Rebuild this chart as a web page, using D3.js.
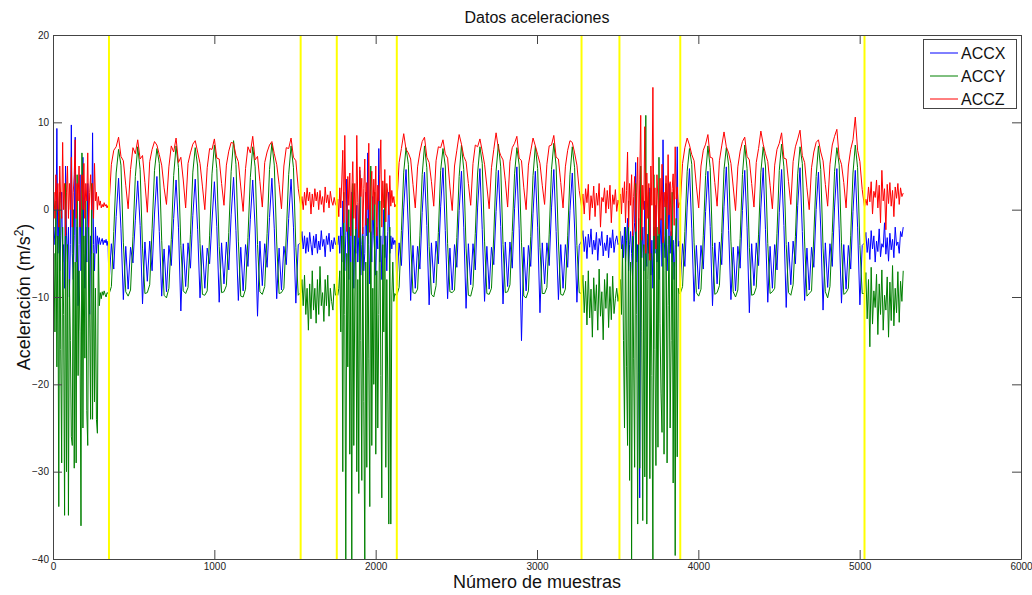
<!DOCTYPE html>
<html>
<head>
<meta charset="utf-8">
<script src="https://cdn.jsdelivr.net/npm/d3@7"></script>
<style>
  html, body { margin: 0; padding: 0; background: #fff; }
  svg { display: block; font-family: "Liberation Sans", Arial, sans-serif; }
</style>
</head>
<body>
<svg id="chart" width="1032" height="595"></svg>
<script>
// Sample index where each recorded activity segment begins; the last entry closes the record.
const segmentStarts = [0, 347, 1535, 1759, 2131, 3276, 3511, 3888, 5030];
const lastSample = 5270;
// Samples where the activity changes (drawn as yellow markers).
const markerSamples = [347, 1535, 1759, 2131, 3276, 3511, 3888, 5030];

const xTicks = [0, 1000, 2000, 3000, 4000, 5000, 6000];
const yTicks = [-40, -30, -20, -10, 0, 10, 20];
const seriesNames = ["ACCX", "ACCY", "ACCZ"];

// ACCX, one list of readings per segment
const accX = [
  [-2.5,-2,-4,-3,9.3,-5,-1,-7,-3,2,-6,-4,-9,5,-3,-6,-2,-10,-4,9.7,-5,-8,-3,8.3,-6,-2,-11,-4,4,-7,
   -3,6,-5,-9,-2,-6,3,-4,-12,-3,-5,8.8,-4,-7,-2,-5,-3,-4,-3.2,-4,-3.6,-3.3,-4,-3.5,-3.8,-3.4,-4.1,-3.6],
  [-8.6,-3.9,-6.8,-0.8,3.6,-2.2,-10.3,-4.2,
   -9.1,-4.3,-6.1,-1.2,3.3,-1.8,-10.8,-3.7,
   -8.2,-3.6,-7.0,-0.5,3.8,-2.5,-9.9,-4.5,
   -9.4,-4.1,-6.4,-1.0,3.4,-2.0,-11.6,-3.9,
   -8.8,-3.8,-6.7,-0.7,3.5,-2.3,-10.1,-4.1,
   -9.0,-4.4,-6.2,-1.3,3.2,-1.9,-10.6,-3.8,
   -8.5,-3.7,-6.9,-0.6,3.7,-2.4,-10.4,-4.3,
   -9.3,-4.0,-6.5,-1.1,3.4,-2.1,-12.2,-3.6,
   -8.7,-3.9,-6.6,-0.9,3.6,-2.2,-10.2,-4.4,
   -9.2,-4.2,-6.3,-1.0,3.5,-2.0,-10.7,-4.0],
  [-3.8,-2.5,-4.5,-3,-5,-3.2,-4.8,-2.6,-4,-5.2,-3,-4.4,-2.8,-5,-3.6,-4.6,-2.4,-4.2,-3.4,-5.4,
   -3,-4,-2.7,-4.8,-3.5,-4.5,-3.2,-4],
  [-3.5,-4,-3,-5,-2,-6,1,-4,-7,-3,3.5,-5,-8,-2,-6,2,-4,-9,-3,-5,0.5,-6,-3,4.5,-7.5,-4,-2,-7,-5,2,
   -3,6.5,-4,-8.5,-2.5,-6,1.5,-3,-5,-7.5,-2,-4.5,7,-6,-3,-8,-4,0,-5.5,-3,-7,-2.5,2,-5,-3,-4.5,-3.2,-4,-3.5,-3.8],
  [-8.7,-3.8,-6.4,0.2,4.6,-2.1,-10.4,-4.1,
   -9.0,-4.2,-6.8,-0.3,4.3,-1.8,-10.9,-3.8,
   -8.4,-3.6,-6.2,0.4,4.8,-2.4,-10.2,-4.4,
   -9.2,-4.0,-6.6,-0.1,4.4,-2.0,-11.3,-3.9,
   -8.6,-3.9,-6.9,0.3,4.7,-2.3,-10.5,-4.2,
   -9.1,-4.3,-6.3,-0.2,4.5,-1.9,-10.8,-3.7,
   -8.8,-3.7,-6.7,0.1,4.9,-2.2,-15.0,-4.3,
   -9.3,-4.1,-6.5,-0.4,4.4,-2.0,-11.8,-3.8,
   -8.5,-3.8,-6.4,0.2,4.6,-2.5,-10.3,-4.0,
   -9.0,-4.0,-6.6,-0.1,4.2,-2.1,-10.6,-4.1],
  [-3.6,-2.4,-4.8,-3.1,-5.6,-2.8,-4.3,-2.2,-5.1,-3.5,-4.6,-2.6,-5.8,-3.3,-4.1,-2.5,-5.3,-3.8,-4.7,-2.9,
   -5.5,-3.2,-4.4,-2.3,-4.9,-3.6,-3.0,-4.0],
  [-3.8,-2.5,-4.5,-3,-5.5,-2,-6,-3.5,-1,-7,-4,-2.5,-5,-8,-3,-1.5,5.4,-6,-4,-18.6,-33,-3,-5.5,-2,-7,1,
   -4.5,-6.5,-2.8,-5,2.5,-7.5,-3.5,-9,-2,-5,0.5,-6,-3,-8,-4,-1,-6.5,8,-3,-5.5,-2.2,-7,-4,3,-5,-2.5,-6,
   -3.5,-8,-4,-2,7.2,-4.2,-3.6],
  [-8.8,-3.9,-6.5,0.3,4.7,-2.2,-10.5,-4.1,
   -9.1,-4.1,-6.8,-0.2,4.4,-1.9,-11.0,-3.8,
   -8.5,-3.7,-6.3,0.4,4.9,-2.4,-10.3,-4.3,
   -9.3,-4.2,-6.7,-0.1,4.5,-2.0,-11.8,-3.9,
   -8.7,-3.8,-6.4,0.2,4.8,-2.3,-10.6,-4.2,
   -9.0,-4.0,-6.9,-0.3,4.6,-1.8,-11.2,-3.7,
   -8.6,-3.6,-6.2,0.5,4.8,-2.5,-10.4,-4.4,
   -9.2,-4.3,-6.6,0.0,4.3,-2.1,-11.5,-3.8,
   -8.9,-3.9,-6.5,0.3,4.7,-2.2,-10.7,-4.0,
   -9.1,-4.1,-6.8,-0.2,4.5,-2.0,-10.9,-4.1],
  [-3.8,-2.6,-4.9,-3.3,-5.7,-2.4,-4.5,-3.0,-6.0,-3.6,-4.8,-2.2,-5.4,-3.9,-4.3,-1.5,-5.1,-3.2,-5.9,-2.7,
   -4.6,-3.4,-5.5,-2.0,-4.1,-3.7,-5.0,-2.5,-3.1,-2.0]
];

// ACCY
const accY = [
  [-9.6,-5,-14,1,-18,-3,-34,2,-16,-29,-2,-12,-35,3,-30,-4,-35,-8,-15,-26,-27,0,-29.6,-6,-29,4,-19,-7,-14,-36.2,
   6.5,-25,-3,-17,1,-23,-27,-2,-12,-24,3,-24,-5,-22,-9,-24,-25.6,-4,-11,-9.5,-10.2,-9.4,-9.8,-9.3,-9.7,-10,-9.5,-9.6],
  [-9.7,-8.8,-2.5,4.2,6.9,5.1,-3.8,-9.4,
   -9.9,-9.2,-3.1,3.8,7.2,4.6,-4.4,-9.6,
   -9.5,-8.6,-2.2,4.5,7.0,5.3,-3.5,-9.8,
   -10.1,-9.0,-3.4,3.9,7.3,4.8,-4.1,-9.3,
   -9.6,-8.9,-2.8,4.3,7.1,5.0,-3.9,-9.7,
   -9.8,-9.3,-3.0,4.1,7.4,4.7,-4.2,-9.5,
   -9.4,-8.7,-2.6,4.4,7.9,5.2,-3.6,-9.9,
   -10.0,-9.1,-3.2,3.7,7.2,4.9,-4.0,-9.4,
   -9.7,-8.8,-2.7,4.6,7.6,5.1,-3.7,-9.6,
   -9.5,-9.0,-2.9,4.0,7.3,4.8,-4.3,-9.8],
  [-9.5,-8,-11,-7.5,-12,-9,-13.8,-8.5,-12.5,-7,-11.5,-9,-13,-8,-12,-6.5,-11,-9.5,-12.8,-8,
   -11,-7.5,-12.2,-9,-10.5,-11.5,-8.5,-9.8],
  [-9.5,-9.8,-9,-7,-14,-3,-30,2,-12,-40,-5,-18,0,-28,-6,-40,3,-27,-10,-2,-30,-8,-32.5,4,-15,-31,-3,-22,-40,-6,
   -29.5,-1,-17,-34,5,-27,-9,-20,2,-28,-7,-25,-12,1,-19,-33,-4,-14,3,-29.5,-8,-21,-36,-2,-36,-10,-6,-10.5,-9.6,-9.8],
  [-9.8,-8.9,-2.4,4.3,7.1,5.2,-3.7,-9.5,
   -9.6,-9.1,-3.0,4.0,7.3,4.8,-4.2,-9.7,
   -10.0,-8.7,-2.6,4.5,7.0,5.0,-3.9,-9.4,
   -9.5,-9.2,-3.2,3.8,7.4,4.6,-4.4,-9.8,
   -9.9,-8.8,-2.7,4.2,7.2,5.3,-3.6,-9.6,
   -9.7,-9.0,-2.9,4.4,7.5,4.9,-4.0,-9.5,
   -9.4,-8.6,-2.5,4.1,7.1,5.1,-3.8,-9.9,
   -10.1,-9.3,-3.1,3.9,7.3,4.7,-4.3,-9.6,
   -9.6,-8.9,-2.8,4.6,7.6,5.0,-3.7,-9.7,
   -9.8,-9.1,-3.0,4.0,7.2,4.8,-4.1,-9.5],
  [-9.6,-7.5,-11.8,-8.2,-13.2,-7.0,-12.4,-9.1,-14.6,-7.8,-11.6,-8.6,-13.8,-6.8,-12.2,-9.4,-14.9,-8.0,-11.3,-7.3,
   -13.5,-8.8,-12.6,-7.6,-11.9,-10.2,-9.0,-10.5],
  [-9.5,-8,-12,-4,-15,-25,-2,-18,-27,1,-31,-6,-40,-3,-17,-29.5,3,-12,-36,-1,-29.6,5,-14,-35.6,-4,-30.6,10.8,-36,-8,2,
   -30.8,-5,-19,-40,4,-16,-29.3,-2,-27.2,6,-13,-21,-25.5,0,-28,-7,3,-29,-11,-3,-25,-15,2,-31.3,-6,-39.6,-1,-28.3,-9,-9.6],
  [-9.6,-8.8,-2.5,4.4,7.0,5.2,-3.8,-9.5,
   -9.9,-9.1,-3.0,3.9,7.3,4.8,-4.2,-9.7,
   -9.5,-8.7,-2.6,4.6,7.1,5.1,-3.6,-9.4,
   -10.0,-9.2,-3.3,4.0,7.4,4.7,-4.3,-9.8,
   -9.7,-8.9,-2.8,4.3,7.2,5.0,-3.9,-9.6,
   -9.4,-9.0,-2.7,4.5,7.5,4.9,-4.0,-9.5,
   -9.8,-8.6,-3.1,4.1,7.2,5.3,-3.7,-9.9,
   -9.6,-9.3,-2.9,3.8,7.3,4.6,-4.4,-9.4,
   -10.1,-8.8,-2.6,4.4,7.1,5.1,-3.8,-9.7,
   -9.5,-9.0,-3.0,4.2,7.4,4.8,-4.1,-9.6],
  [-9.6,-7.2,-12.5,-8.0,-15.7,-6.6,-13.1,-9.3,-11.2,-7.4,-14.3,-8.5,-12.0,-6.9,-13.8,-9.8,-11.5,-7.7,-14.6,-8.3,
   -12.7,-6.4,-13.3,-9.0,-11.8,-7.1,-12.9,-8.2,-10.5,-7.0]
];

// ACCZ
const accZ = [
  [0.5,2,-1,4,0,3,-2,5,1,-1,7.7,0,3,-3,2,5,-1,3,0,6,-2,2,4,8,-1,3,1,5,-2,2,
   4,0,5.3,-1,3,1,6.5,-2,2,4,0,3,-1,5.3,1,2,0,1.5,0.5,1,0.2,0.6,0.3,0.8,0.4,0.6,0.2,0.5],
  [0.4,5.2,6.8,7.2,8.3,6.1,5.6,2.8,
   0.1,4.6,7.1,6.4,8.0,5.8,6.2,3.1,
   -0.3,5.5,6.9,7.8,7.4,6.3,5.1,2.5,
   0.6,4.9,7.3,6.6,8.2,5.4,6.0,3.4,
   0.2,5.3,6.5,7.5,7.9,6.6,5.3,2.7,
   0.0,4.8,7.0,6.9,8.1,5.9,5.8,3.0,
   0.5,5.1,6.7,7.7,7.6,6.2,5.5,2.6,
   -0.2,4.7,7.2,6.5,8.4,5.7,6.1,3.2,
   0.3,5.4,6.6,7.4,7.8,6.4,5.2,2.9,
   0.1,5.0,7.1,7.0,8.2,6.0,5.6,2.4],
  [0.5,1.5,0,2,0.5,2.5,1,2,-0.5,1.8,0.3,2.4,1,2,0,2.2,0.6,1.5,-0.3,2.6,
   0.8,1.7,0.2,2.1,1,0.5,1.4,0.6],
  [0.4,1.2,-0.8,2.5,0.2,3.4,6.8,-1.5,8.5,1,-2.5,3.8,0.5,4.2,-3,2,5.5,-1,3,-2.2,
   8.5,0.8,-3.2,4.9,1.5,3.6,-2.8,2.4,5.8,-1.8,3.1,0,7.6,-2.6,2.2,4.4,-1.2,3.5,0.6,5,
   -3,2.8,1,4,8,-2,3.3,0.2,4.6,-1.4,3,1.8,-0.6,3.9,0.4,2.2,0.8,1.5,0.3,0.6],
  [0.6,5.4,7.0,8.7,6.9,6.5,5.8,2.9,
   0.2,4.9,6.6,7.8,8.3,6.0,5.4,3.2,
   0.4,5.6,7.2,7.1,8.0,6.4,5.9,2.6,
   -0.1,5.0,6.8,8.6,7.5,6.1,5.5,3.0,
   0.5,5.3,7.4,7.2,8.1,6.7,5.2,2.7,
   0.1,4.8,6.9,8.8,7.0,6.2,5.7,3.3,
   0.3,5.5,7.1,7.6,8.4,5.9,5.6,2.5,
   0.0,5.1,6.7,8.2,7.3,6.3,5.3,2.8,
   0.6,5.2,7.3,7.4,8.5,6.0,5.8,3.1,
   0.2,4.9,6.8,7.9,7.7,6.5,5.1,2.2],
  [0.4,1.8,-0.5,2.4,0.8,2.9,-1.2,1.6,0.2,2.7,-0.8,1.9,0.5,3.0,-2.0,1.4,0.9,2.5,-0.4,2.2,
   0.1,2.8,-1.5,1.7,0.6,2.3,-0.2,1.1],
  [0.5,1.8,-0.5,2.5,0.8,3.2,-1.5,2.2,6.6,-2,3,0.5,4,-3,1.5,3.8,-2.5,2,6,-4,
   3.5,10.8,-3.5,2.8,0,9.5,-5,4.2,-1,3,-5.8,5,0.5,14,-3,2.5,-4.5,4,1,-2.8,
   3.6,-1.2,5.2,-3.8,2,0.3,3.9,-2.2,6.3,-0.6,3.2,-3,2.4,4.1,-1.8,7.2,1.2,2.6,0.2,0.8],
  [0.5,5.3,7.1,8.2,7.4,6.3,5.6,2.7,
   0.2,5.0,6.8,7.5,8.6,6.0,5.9,3.1,
   0.4,5.6,7.3,8.9,7.2,6.5,5.3,2.6,
   -0.1,4.9,6.7,7.8,8.3,6.1,5.7,3.0,
   0.3,5.4,7.0,9.0,7.5,6.4,5.5,2.8,
   0.1,5.1,6.9,7.6,8.8,5.9,5.8,3.2,
   0.6,5.5,7.2,8.1,9.1,6.2,5.4,2.5,
   0.0,4.8,6.6,7.7,8.0,6.6,5.6,2.9,
   0.4,5.2,7.4,8.4,9.2,6.0,5.2,3.1,
   0.2,5.0,6.9,8.0,10.6,6.8,5.5,2.3],
  [0.3,1.2,0.5,2.6,0.9,3.2,-0.5,2.1,1.4,3.4,0.2,2.8,-1.5,4.5,1.0,2.4,-2.3,2.9,0.7,3.1,
   0.4,2.2,-0.8,2.6,1.3,3.0,0.6,2.5,1.5,1.9]
];

const seriesColors = ["#0000ff", "#008000", "#ff0000"];

const svg = d3.select("#chart");
const margin = { left: 53, right: 1021, top: 35, bottom: 559 };

const x = d3.scaleLinear().domain([0, 6000]).range([margin.left, margin.right]);
const y = d3.scaleLinear().domain([-40, 20]).range([margin.bottom, margin.top]);

// Turn each series into (sample, value) pairs, spreading readings evenly across their segment.
function toPoints(segments) {
  const pts = [];
  segments.forEach((vals, k) => {
    const s0 = segmentStarts[k];
    const s1 = k + 1 < segmentStarts.length ? segmentStarts[k + 1] : lastSample;
    const n = k + 1 < segmentStarts.length ? vals.length : vals.length - 1;
    vals.forEach((v, i) => pts.push([s0 + (s1 - s0) * i / n, v]));
  });
  return pts;
}

const series = [accX, accY, accZ].map(toPoints);

svg.append("defs").append("clipPath").attr("id", "plotClip")
  .append("rect")
  .attr("x", margin.left).attr("y", margin.top)
  .attr("width", margin.right - margin.left)
  .attr("height", margin.bottom - margin.top);

const line = d3.line().x(d => x(d[0])).y(d => y(d[1]));

const plot = svg.append("g").attr("clip-path", "url(#plotClip)");
series.forEach((pts, i) => {
  plot.append("path")
    .datum(pts)
    .attr("fill", "none")
    .attr("stroke", seriesColors[i])
    .attr("stroke-width", 1)
    .attr("stroke-linejoin", "round")
    .attr("d", line);
});

// Segment change markers
plot.selectAll("line.marker")
  .data(markerSamples)
  .join("line")
  .attr("class", "marker")
  .attr("x1", d => x(d)).attr("x2", d => x(d))
  .attr("y1", margin.top).attr("y2", margin.bottom)
  .attr("stroke", "#ffff00")
  .attr("stroke-width", 2);

// Axes box with inward ticks on all four sides
const axisColor = "#444";
const tickLen = 9;
const fmt = d3.format("d");
const bottomAxis = d3.axisBottom(x).tickValues(xTicks).tickFormat(fmt).tickSizeInner(-tickLen).tickSizeOuter(0).tickPadding(4);
const topAxis = d3.axisTop(x).tickValues(xTicks).tickSizeInner(-tickLen).tickSizeOuter(0).tickFormat("");
const leftAxis = d3.axisLeft(y).tickValues(yTicks).tickFormat(fmt).tickSizeInner(-tickLen).tickSizeOuter(0).tickPadding(4);
const rightAxis = d3.axisRight(y).tickValues(yTicks).tickSizeInner(-tickLen).tickSizeOuter(0).tickFormat("");

function styleAxis(g) {
  g.selectAll(".domain").attr("stroke", axisColor);
  g.selectAll(".tick line").attr("stroke", axisColor);
  g.selectAll(".tick text").attr("fill", "#222").attr("font-size", 10)
    .attr("font-family", "'Liberation Sans', Arial, sans-serif");
}

svg.append("g").attr("transform", `translate(0,${margin.bottom})`).call(bottomAxis).call(styleAxis);
svg.append("g").attr("transform", `translate(0,${margin.top})`).call(topAxis).call(styleAxis);
svg.append("g").attr("transform", `translate(${margin.left},0)`).call(leftAxis).call(styleAxis);
svg.append("g").attr("transform", `translate(${margin.right},0)`).call(rightAxis).call(styleAxis);

// Title and axis labels
svg.append("text")
  .attr("x", (margin.left + margin.right) / 2).attr("y", 23)
  .attr("text-anchor", "middle").attr("font-size", 16).attr("fill", "#111")
  .text("Datos aceleraciones");

svg.append("text")
  .attr("x", (margin.left + margin.right) / 2).attr("y", 588)
  .attr("text-anchor", "middle").attr("font-size", 18).attr("fill", "#111")
  .text("Número de muestras");

const yLabel = svg.append("text")
  .attr("transform", `translate(30,${(margin.top + margin.bottom) / 2}) rotate(-90)`)
  .attr("text-anchor", "middle").attr("font-size", 18).attr("fill", "#111");
yLabel.append("tspan").text("Aceleración (m/s");
yLabel.append("tspan").attr("dy", -7).attr("font-size", 12).text("2");
yLabel.append("tspan").attr("dy", 7).text(")");

// Legend
const legend = svg.append("g").attr("transform", "translate(923,39)");
legend.append("rect")
  .attr("x", 0.5).attr("y", 0.5)
  .attr("width", 93).attr("height", 69)
  .attr("fill", "#fff").attr("stroke", axisColor).attr("stroke-width", 1);
seriesNames.forEach((name, i) => {
  const cy = 14 + i * 23;
  legend.append("line")
    .attr("x1", 7).attr("x2", 35).attr("y1", cy).attr("y2", cy)
    .attr("stroke", seriesColors[i]).attr("stroke-width", 1);
  legend.append("text")
    .attr("x", 38).attr("y", cy).attr("dy", "0.36em")
    .attr("font-size", 16).attr("fill", "#111")
    .text(name);
});
</script>
</body>
</html>
